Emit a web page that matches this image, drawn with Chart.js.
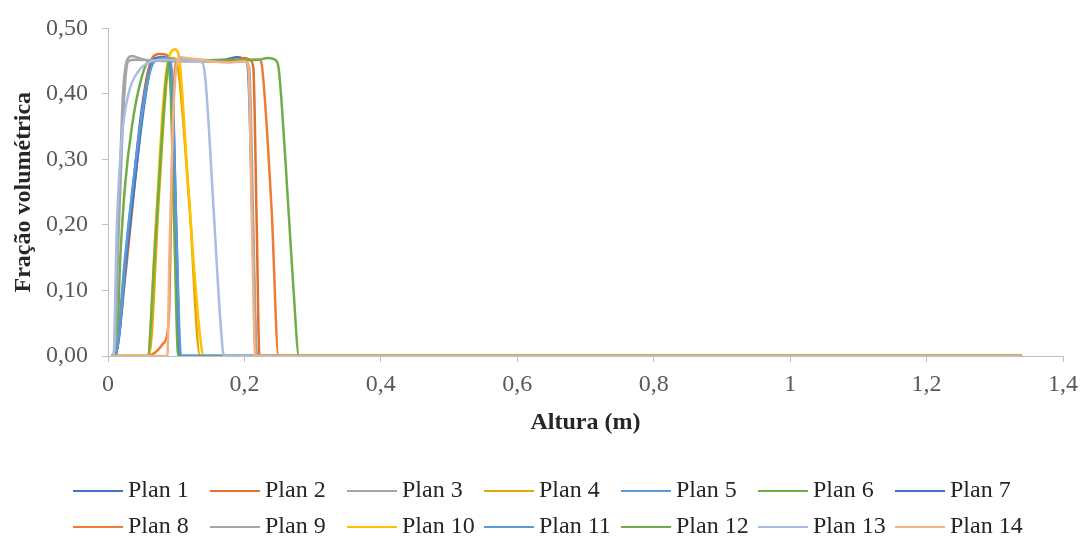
<!DOCTYPE html>
<html>
<head>
<meta charset="utf-8">
<script src="https://cdn.jsdelivr.net/npm/chart.js@4.4.0/dist/chart.umd.min.js"></script>
<style>
  body { margin: 0; background: #fff; }
  #wrap { position: relative; width: 1086px; height: 541px; }
  #legend { position: absolute; left: 0; top: 0; width: 1086px; height: 541px; pointer-events: none; }
  .item { position: absolute; height: 28px; line-height: 28px; white-space: nowrap;
          font-family: "Liberation Serif", "Times New Roman", serif; font-size: 24px; color: #262626; }
  .item span.line { display: inline-block; width: 50px; height: 2px; vertical-align: middle; margin-right: 5px; }
</style>
</head>
<body>
<div id="wrap">
  <canvas id="chart" width="1086" height="541"></canvas>
  <div id="legend"></div>
</div>
<script>
// Altura (m) vs fração volumétrica, one list of [x, y] per plan
const plan1 = [[0.005,0],[0.01,0],[0.02,0.08],[0.035,0.24],[0.05,0.38],[0.062,0.445],[0.075,0.452],[0.12,0.451],[0.17,0.452],[0.19,0.456],[0.2,0.453],[0.205,0.44],[0.212,0.2],[0.218,0],[1.34,0]];
const plan2 = [[0.005,0],[0.01,0],[0.025,0.12],[0.04,0.27],[0.055,0.41],[0.065,0.455],[0.075,0.461],[0.085,0.46],[0.095,0.452],[0.15,0.451],[0.19,0.452],[0.2,0.455],[0.208,0.452],[0.213,0.44],[0.218,0.2],[0.222,0],[1.34,0]];
const plan3 = [[0.005,0],[0.008,0],[0.015,0.2],[0.022,0.4],[0.028,0.452],[0.035,0.458],[0.045,0.455],[0.06,0.451],[0.15,0.45],[0.2,0.451],[0.206,0.44],[0.212,0.2],[0.217,0],[1.34,0]];
const plan4 = [[0.005,0],[0.06,0],[0.075,0.25],[0.088,0.44],[0.095,0.455],[0.1,0.45],[0.105,0.42],[0.12,0.22],[0.135,0],[1.34,0]];
const plan5 = [[0.005,0],[0.01,0],[0.025,0.15],[0.045,0.33],[0.06,0.43],[0.068,0.452],[0.08,0.456],[0.088,0.45],[0.092,0.42],[0.098,0.2],[0.104,0],[1.34,0]];
const plan6 = [[0.005,0],[0.012,0],[0.018,0.15],[0.025,0.26],[0.035,0.35],[0.048,0.42],[0.06,0.45],[0.08,0.453],[0.087,0.45],[0.092,0.4],[0.097,0.2],[0.103,0],[1.34,0]];
const plan7 = [[0.005,0],[0.01,0],[0.03,0.18],[0.05,0.36],[0.062,0.44],[0.07,0.455],[0.082,0.456],[0.09,0.45],[0.095,0.4],[0.1,0.2],[0.106,0],[1.34,0]];
const plan8 = [[0.005,0],[0.058,0],[0.07,0.006],[0.08,0.018],[0.087,0.035],[0.09,0.08],[0.093,0.25],[0.097,0.42],[0.102,0.452],[0.15,0.451],[0.2,0.452],[0.222,0.452],[0.226,0.44],[0.24,0.22],[0.25,0],[1.34,0]];
const plan9 = [[0.005,0],[0.009,0],[0.016,0.2],[0.024,0.4],[0.03,0.45],[0.04,0.452],[0.1,0.45],[0.2,0.45],[0.207,0.44],[0.213,0.2],[0.218,0],[1.34,0]];
const plan10 = [[0.005,0],[0.058,0],[0.07,0.2],[0.082,0.4],[0.088,0.45],[0.093,0.465],[0.098,0.468],[0.103,0.462],[0.106,0.44],[0.115,0.3],[0.125,0.15],[0.135,0.03],[0.14,0],[1.34,0]];
const plan11 = [[0.005,0],[0.01,0],[0.03,0.2],[0.05,0.37],[0.065,0.445],[0.075,0.453],[0.088,0.455],[0.093,0.44],[0.1,0.2],[0.107,0],[1.34,0]];
const plan12 = [[0.005,0],[0.058,0],[0.068,0.15],[0.078,0.32],[0.086,0.43],[0.09,0.452],[0.12,0.452],[0.18,0.451],[0.22,0.452],[0.235,0.455],[0.245,0.452],[0.25,0.44],[0.26,0.3],[0.272,0.1],[0.28,0],[1.34,0]];
const plan13 = [[0.005,0],[0.008,0],[0.013,0.2],[0.02,0.33],[0.03,0.4],[0.045,0.435],[0.06,0.448],[0.08,0.452],[0.12,0.451],[0.138,0.448],[0.143,0.42],[0.155,0.22],[0.165,0.05],[0.17,0],[1.34,0]];
const plan14 = [[0.005,0],[0.087,0],[0.09,0.15],[0.095,0.35],[0.1,0.44],[0.106,0.456],[0.115,0.455],[0.15,0.45],[0.18,0.448],[0.2,0.45],[0.206,0.44],[0.211,0.2],[0.216,0],[1.34,0]];

const planLabels = ['Plan 1','Plan 2','Plan 3','Plan 4','Plan 5','Plan 6','Plan 7',
                    'Plan 8','Plan 9','Plan 10','Plan 11','Plan 12','Plan 13','Plan 14'];
const planColors = ['#4472c4','#e2712c','#a5a5a5','#e0a800','#5b9bd5','#70ad47','#4472c4',
                    '#ed7d31','#a5a5a5','#ffc000','#5b9bd5','#70ad47','#a9bde3','#f4b183'];
const planData = [plan1, plan2, plan3, plan4, plan5, plan6, plan7,
                  plan8, plan9, plan10, plan11, plan12, plan13, plan14];

const xTickLabels = ['0','0,2','0,4','0,6','0,8','1','1,2','1,4'];
const yTickLabels = ['0,00','0,10','0,20','0,30','0,40','0,50'];

const serif = '"Liberation Serif", "Times New Roman", serif';

const datasets = planData.map((pts, i) => ({
    label: planLabels[i],
    data: pts.map(([x, y]) => ({ x: x, y: y })),
    borderColor: planColors[i],
    backgroundColor: planColors[i],
    borderWidth: 2.5,
    pointRadius: 0,
    cubicInterpolationMode: 'monotone',
    order: planData.length - 1 - i   // later plans on top, like Excel
}));

new Chart(document.getElementById('chart').getContext('2d'), {
    type: 'line',
    data: { datasets: datasets },
    options: {
        responsive: false,
        animation: false,
        layout: { padding: { top: 22, right: 20, bottom: 95, left: 0 } },
        plugins: { legend: { display: false }, tooltip: { enabled: false } },
        scales: {
            x: {
                type: 'linear',
                min: 0,
                max: 1.4,
                ticks: {
                    stepSize: 0.2,
                    callback: (v, i) => xTickLabels[i],
                    font: { family: serif, size: 24 },
                    color: '#595959',
                    padding: 8,
                    maxRotation: 0
                },
                grid: { drawOnChartArea: false, tickLength: 6, color: '#bfbfbf' },
                border: { color: '#bfbfbf' },
                title: {
                    display: true,
                    text: 'Altura (m)',
                    font: { family: serif, size: 24, weight: 'bold' },
                    color: '#262626',
                    padding: { top: 0, bottom: 9 }
                },
                afterFit: s => { s.height = 90; }
            },
            y: {
                min: 0,
                max: 0.5,
                ticks: {
                    stepSize: 0.1,
                    callback: (v, i) => yTickLabels[i],
                    font: { family: serif, size: 24 },
                    color: '#595959',
                    padding: 14
                },
                grid: { drawOnChartArea: false, tickLength: 6, color: '#bfbfbf' },
                border: { color: '#bfbfbf' },
                title: {
                    display: true,
                    text: 'Fração volumétrica',
                    font: { family: serif, size: 24, weight: 'bold' },
                    color: '#262626',
                    padding: { top: 9, bottom: 0 }
                },
                afterFit: s => { s.width = 108; }
            }
        }
    }
});

// legend laid out in fixed columns like the original
const legend = document.getElementById('legend');
planLabels.forEach((label, i) => {
    const row = Math.floor(i / 7);
    const col = i % 7;
    const item = document.createElement('div');
    item.className = 'item';
    item.style.left = (73 + 137 * col) + 'px';
    item.style.top = (475 + 36 * row) + 'px';
    item.innerHTML = '<span class="line" style="background:' + planColors[i] + '"></span>' + label;
    legend.appendChild(item);
});
</script>
</body>
</html>
